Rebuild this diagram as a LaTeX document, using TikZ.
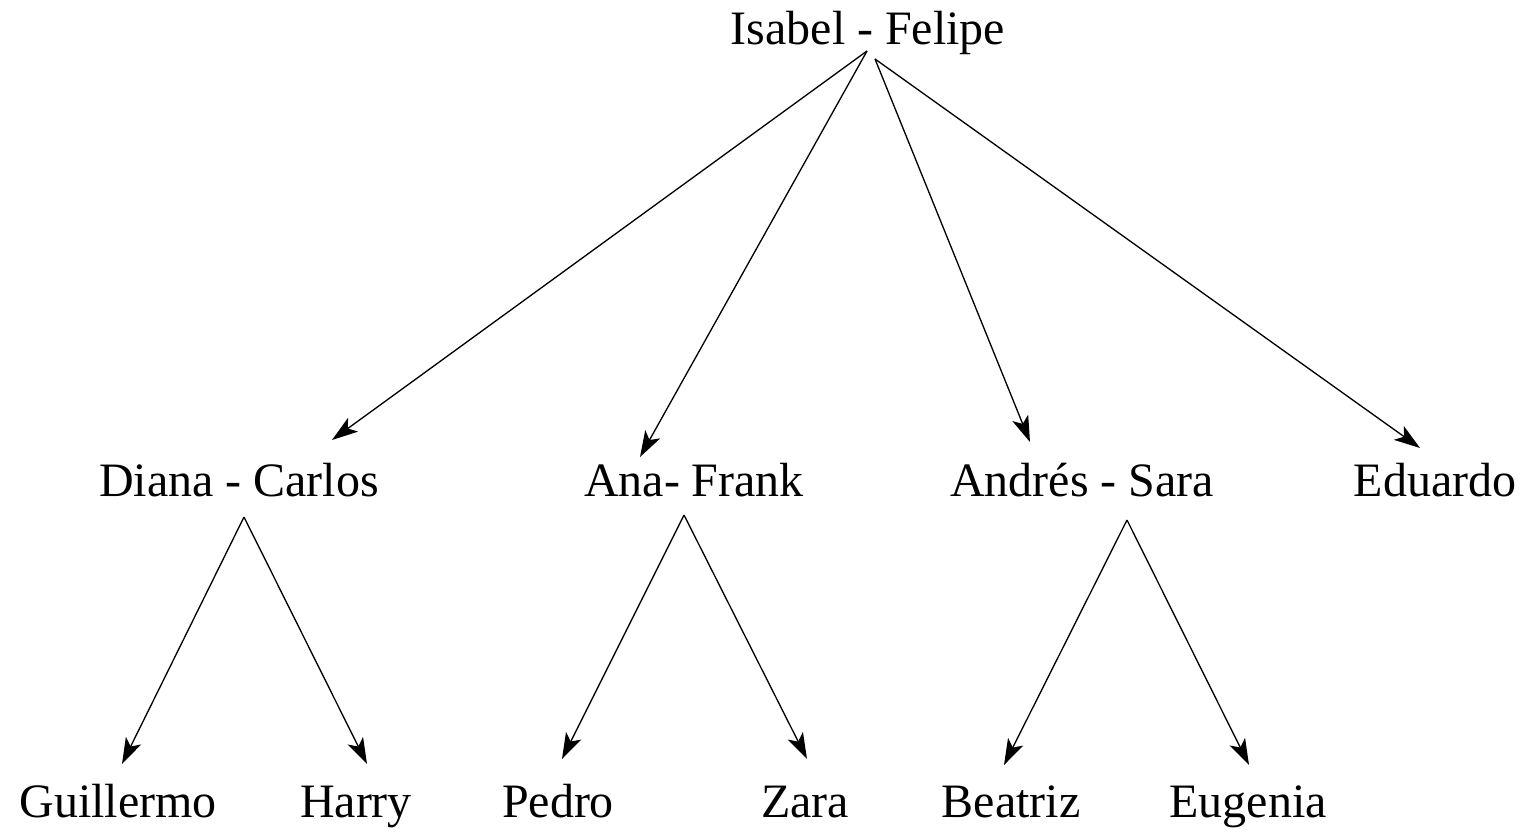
\documentclass[tikz,border=0pt]{standalone}
\usepackage{fontspec}
\setmainfont{Liberation Serif}
\usetikzlibrary{arrows.meta}
\tikzset{
    >={Stealth[length=0.52cm, width=0.34cm, inset=0.13cm]},
    person/.style={anchor=base, inner sep=0pt, font=\fontsize{27.3}{33}\selectfont},
    descent/.style={->, line width=0.75pt},
}

\begin{document}
\begin{tikzpicture}
            \useasboundingbox (0,0) rectangle (30.54,-16.62);
            % generation 1
            \node[person] (IF) at (17.36,-0.88) {Isabel - Felipe};
            % generation 2
            \node[person] (DC) at (4.78,-9.92) {Diana - Carlos};
            \node[person] (AF) at (13.88,-9.92) {Ana- Frank};
            \node[person] (AS) at (21.64,-9.92) {Andrés - Sara};
            \node[person] (ED) at (28.70,-9.92) {Eduardo};
            % generation 3
            \foreach \n/\x/\name in {GU/2.36/Guillermo, HA/7.12/Harry, PE/11.16/Pedro,
                                    ZA/16.10/Zara, BE/20.22/Beatriz, EU/24.96/Eugenia}
                \node[person] (\n) at (\x,-16.34) {\name};
            % start and tip points of the arrows
            \coordinate (IF_l) at (17.34,-1.02);
            \coordinate (IF_r) at (17.50,-1.18);
            \coordinate (DC_s) at (4.88,-10.34);
            \coordinate (AF_s) at (13.68,-10.30);
            \coordinate (AS_s) at (22.54,-10.40);
            \foreach \n/\x/\y in {DC/6.64/-8.80, AF/12.80/-9.14, AS/20.60/-8.84, ED/28.40/-8.96,
                                 GU/2.44/-15.28, HA/7.34/-15.28, PE/11.24/-15.18,
                                 ZA/16.14/-15.18, BE/20.08/-15.30, EU/24.98/-15.30}
                \coordinate (\n_t) at (\x,\y);
            \foreach \a/\b in {IF_l/DC_t, IF_l/AF_t, IF_r/AS_t, IF_r/ED_t,
                               DC_s/GU_t, DC_s/HA_t, AF_s/PE_t, AF_s/ZA_t,
                               AS_s/BE_t, AS_s/EU_t}
                \draw[descent] (\a) -- (\b);
        \end{tikzpicture}
\end{document}
